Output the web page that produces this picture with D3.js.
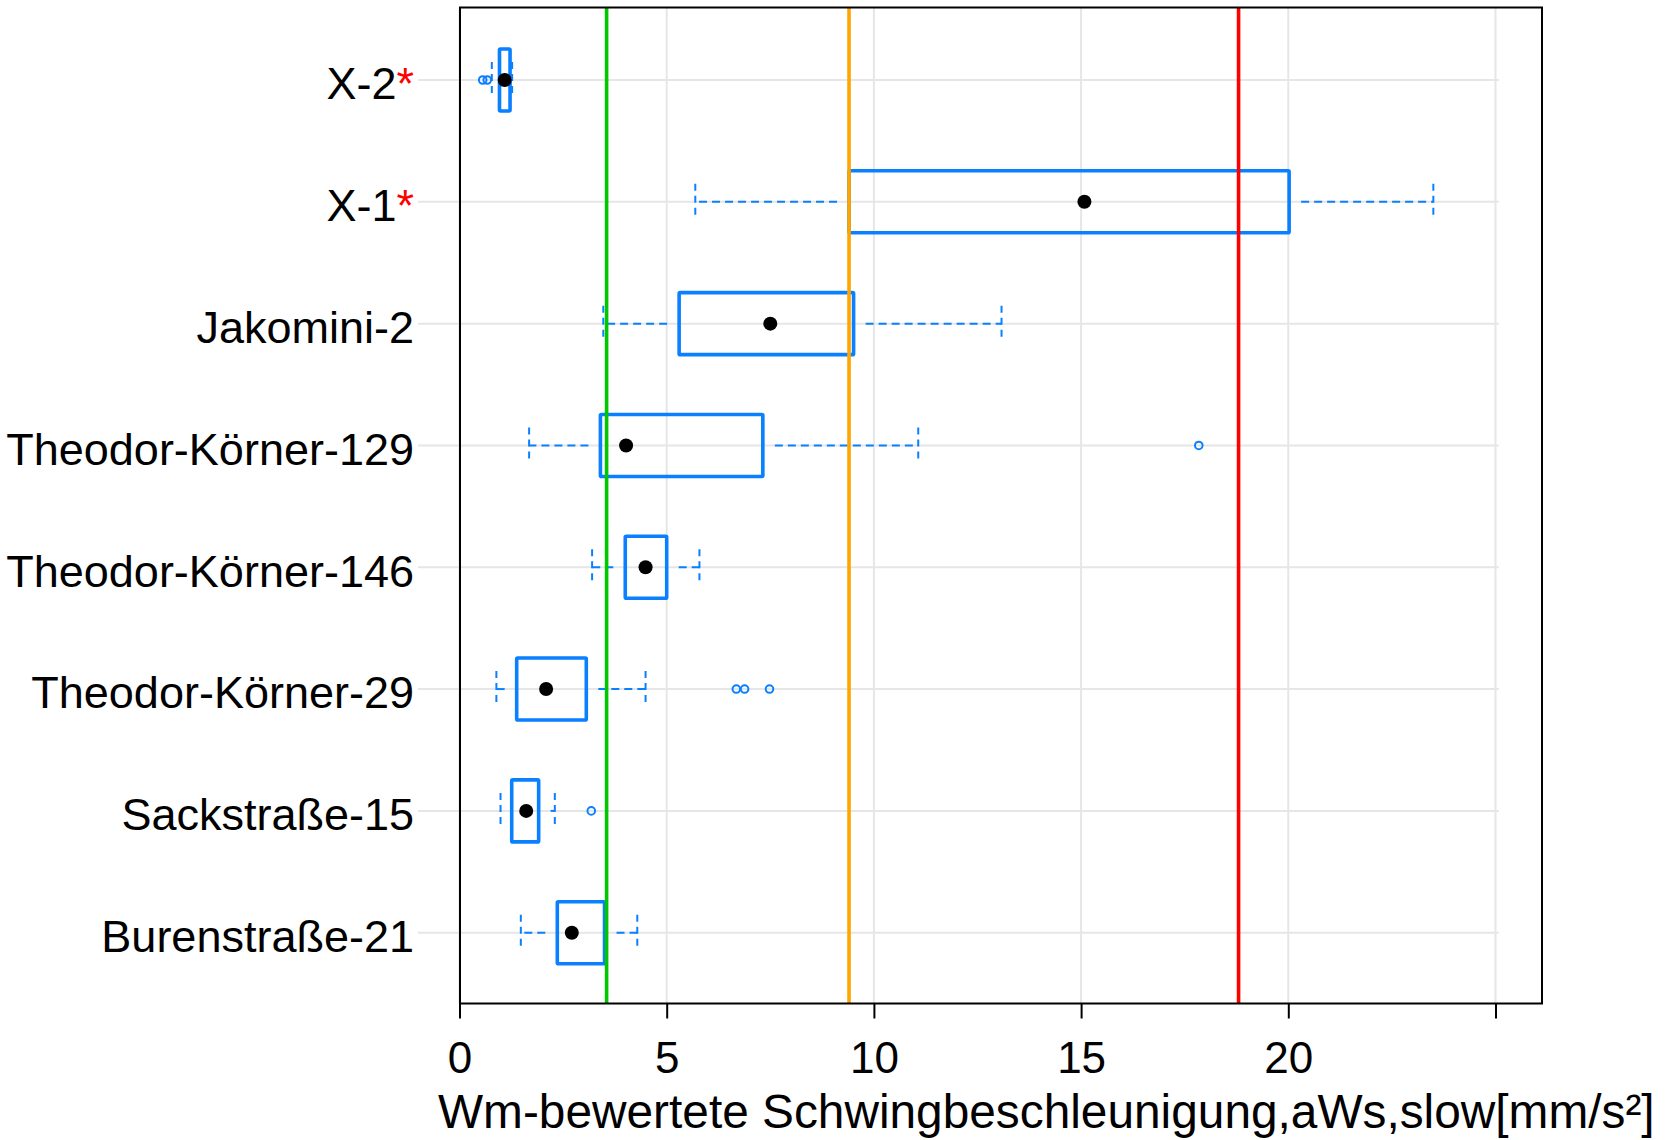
<!DOCTYPE html>
<html>
<head>
<meta charset="utf-8">
<script src="https://cdn.jsdelivr.net/npm/d3@7"></script>
<style>
  html, body { margin: 0; padding: 0; background: #fff; }
  svg { display: block; }
  text { font-family: "Liberation Sans", Arial, sans-serif; fill: #000; }
</style>
</head>
<body>
<svg id="chart" width="1666" height="1140"></svg>
<script>
// ---- data ----
const categories = ["X-2", "X-1", "Jakomini-2", "Theodor-Körner-129", "Theodor-Körner-146", "Theodor-Körner-29", "Sackstraße-15", "Burenstraße-21"];
const starred = [true, true, false, false, false, false, false, false];
const whiskerLow  = [0.78, 5.69, 3.47, 1.68, 3.20, 0.89, 0.99, 1.48];
const q1          = [0.965, 9.40, 5.30, 3.40, 4.00, 1.38, 1.26, 2.36];
const medians     = [1.09, 15.08, 7.50, 4.02, 4.49, 2.09, 1.61, 2.71];
const q3          = [1.22, 20.02, 9.51, 7.32, 5.00, 3.06, 1.91, 3.50];
const whiskerHigh = [1.27, 23.50, 13.08, 11.07, 5.79, 4.49, 2.30, 4.29];
const outliers    = [[0.56, 0.67], [], [], [17.84], [], [6.68, 6.88, 7.48], [3.18], []];
const limitValues = [3.55, 9.40, 18.80];
const limitColors = ["#00c800", "#ffa500", "#ff0000"];
const xTickValues = [0, 5, 10, 15, 20, 25];
const xTickLabels = ["0", "5", "10", "15", "20", ""];
const xTitle = "Wm-bewertete Schwingbeschleunigung,aWs,slow[mm/s²]";

// ---- layout ----
const svg = d3.select("#chart");
const frame = { left: 460, right: 1542, top: 7.5, bottom: 1003.5 };
const x = d3.scaleLinear().domain([0, 25]).range([459.5, 1495.5]);
const y = d3.scalePoint().domain(categories).range([80, 932.7]);
const blue = "#0a80ff";
const boxHalf = 31;
const capHalf = 18;
const whiskGap = 12;

svg.append("rect").attr("width", 1666).attr("height", 1140).attr("fill", "#fff");

// grid
const grid = svg.append("g");
grid.selectAll("line.v").data(xTickValues).join("line")
  .attr("x1", d => x(d)).attr("x2", d => x(d))
  .attr("y1", frame.top).attr("y2", frame.bottom)
  .attr("stroke", "#e6e6e6").attr("stroke-width", 2);
grid.selectAll("line.h").data(categories).join("line")
  .attr("x1", x(-1)).attr("x2", x(25.08))
  .attr("y1", d => y(d)).attr("y2", d => y(d))
  .attr("stroke", "#e6e6e6").attr("stroke-width", 2);

// boxes
const rows = categories.map((c, i) => ({
  c, lo: whiskerLow[i], q1: q1[i], med: medians[i], q3: q3[i], hi: whiskerHigh[i], out: outliers[i]
}));
const g = svg.append("g");
rows.forEach(r => {
  const cy = y(r.c);
  const lStart = x(r.q1) - whiskGap;
  if (lStart > x(r.lo)) {
    g.append("line").attr("x1", lStart).attr("x2", x(r.lo)).attr("y1", cy).attr("y2", cy)
      .attr("stroke", blue).attr("stroke-width", 2).attr("stroke-dasharray", "8,5");
  }
  const uStart = x(r.q3) + whiskGap;
  if (uStart < x(r.hi)) {
    g.append("line").attr("x1", uStart).attr("x2", x(r.hi)).attr("y1", cy).attr("y2", cy)
      .attr("stroke", blue).attr("stroke-width", 2).attr("stroke-dasharray", "8,5");
  }
  [r.lo, r.hi].forEach(v => {
    g.append("line").attr("x1", x(v)).attr("x2", x(v)).attr("y1", cy - capHalf).attr("y2", cy + capHalf)
      .attr("stroke", blue).attr("stroke-width", 2).attr("stroke-dasharray", "7,5");
  });
  g.append("rect").attr("x", x(r.q1)).attr("y", cy - boxHalf)
    .attr("width", x(r.q3) - x(r.q1)).attr("height", 2 * boxHalf)
    .attr("fill", "none").attr("stroke", blue).attr("stroke-width", 3.6).attr("rx", 1);
  r.out.forEach(v => {
    g.append("circle").attr("cx", x(v)).attr("cy", cy).attr("r", 3.8)
      .attr("fill", "none").attr("stroke", blue).attr("stroke-width", 2);
  });
});

// limit lines
svg.append("g").selectAll("line").data(limitValues).join("line")
  .attr("x1", d => x(d)).attr("x2", d => x(d))
  .attr("y1", frame.top).attr("y2", frame.bottom)
  .attr("stroke", (d, i) => limitColors[i]).attr("stroke-width", 3.6);

// median dots
svg.append("g").selectAll("circle").data(rows).join("circle")
  .attr("cx", d => x(d.med)).attr("cy", d => y(d.c)).attr("r", 7).attr("fill", "#000");

// frame
svg.append("rect").attr("x", frame.left).attr("y", frame.top)
  .attr("width", frame.right - frame.left).attr("height", frame.bottom - frame.top)
  .attr("fill", "none").attr("stroke", "#000").attr("stroke-width", 2);

// x axis
const xAxis = d3.axisBottom(x).tickValues(xTickValues)
  .tickFormat((d, i) => xTickLabels[i]).tickSize(15).tickPadding(8);
const ax = svg.append("g").attr("transform", `translate(0,${frame.bottom})`).call(xAxis);
ax.select(".domain").remove();
ax.selectAll(".tick line").attr("stroke", "#000").attr("stroke-width", 2);
ax.selectAll(".tick text").attr("font-size", 44).attr("font-family", "Liberation Sans, Arial, sans-serif")
  .attr("fill", "#000").attr("dy", null).attr("y", 69).attr("dominant-baseline", "auto");

// x title
svg.append("text").attr("x", 438).attr("y", 1128).attr("font-size", 47.8).text(xTitle);

// y labels
const yl = svg.append("g");
categories.forEach((c, i) => {
  const t = yl.append("text").attr("x", 414).attr("y", y(c) + 19.3)
    .attr("text-anchor", "end").attr("font-size", 45);
  t.append("tspan").text(c);
  if (starred[i]) t.append("tspan").style("fill", "#ff0000").text("*");
});
</script>
</body>
</html>
